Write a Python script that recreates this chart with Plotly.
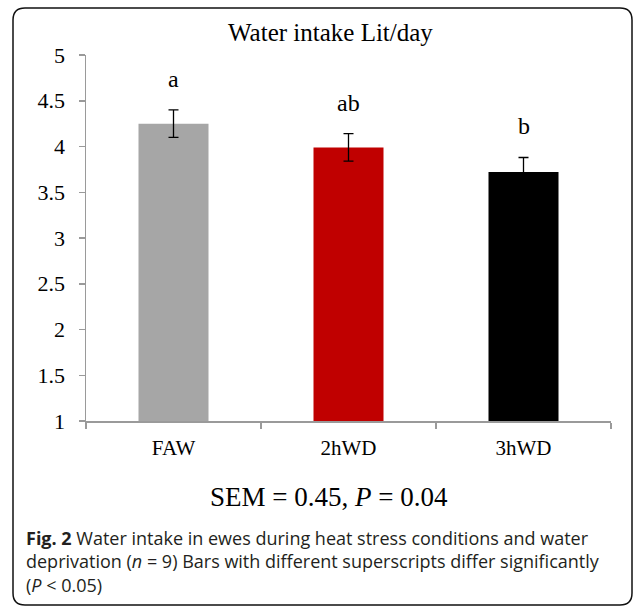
import plotly.graph_objects as go

categories = ["FAW", "2hWD", "3hWD"]
values = [4.25, 3.99, 3.72]
errors = [0.15, 0.15, 0.16]
letters = ["a", "ab", "b"]
bar_colors = ["#a6a6a6", "#c00000", "#000000"]
y_ticks = [1, 1.5, 2, 2.5, 3, 3.5, 4, 4.5, 5]
y_tick_text = ["1", "1.5", "2", "2.5", "3", "3.5", "4", "4.5", "5"]

W, H = 634, 607
L, R, T, B = 86, 23, 55, 186
PW, PH = W - L - R, H - T - B


def px(x):
    return (x - L) / PW


def py(y):
    return (H - B - y) / PH


serif = "Liberation Serif, Times New Roman, serif"

fig = go.Figure()
fig.add_trace(go.Bar(
    x=categories, y=values, base=0,
    marker=dict(color=bar_colors, line=dict(width=0)),
    error_y=dict(type="data", array=errors, color="#000000", thickness=1.3, width=5),
    width=0.4,
    hoverinfo="skip",
))

for cat, v, e, lab in zip(categories, values, errors, letters):
    fig.add_annotation(x=cat, y=v + e, xref="x", yref="y", text=lab, showarrow=False,
                       yanchor="bottom", yshift=16,
                       font=dict(family=serif, size=24, color="#000"))

# Title
fig.add_annotation(x=px(330), y=py(33), xref="paper", yref="paper", text="Water intake Lit/day",
                   showarrow=False, xanchor="center", yanchor="middle",
                   font=dict(family=serif, size=25, color="#000"))
# SEM line
fig.add_annotation(x=px(329), y=py(497), xref="paper", yref="paper",
                   text="SEM = 0.45, <i>P</i> = 0.04",
                   showarrow=False, xanchor="center", yanchor="middle",
                   font=dict(family=serif, size=27, color="#000"))
# Caption
caption = ("<b>Fig. 2</b> Water intake in ewes during heat stress conditions and water<br>"
           "deprivation (<i>n</i> = 9) Bars with different superscripts differ significantly<br>"
           "(<i>P</i> &lt; 0.05)")
fig.add_annotation(x=px(24), y=py(561.5), xref="paper", yref="paper", text=caption,
                   showarrow=False, xanchor="left", yanchor="middle", align="left",
                   font=dict(family="Open Sans, sans-serif", size=18, color="#231f20"))

# Rounded border
x0, x1, y0, y1 = px(13), px(632), py(605), py(8)
rx, ry = 12 / PW, 12 / PH
path = (f"M {x0+rx},{y1} L {x1-rx},{y1} Q {x1},{y1} {x1},{y1-ry} "
        f"L {x1},{y0+ry} Q {x1},{y0} {x1-rx},{y0} L {x0+rx},{y0} "
        f"Q {x0},{y0} {x0},{y0+ry} L {x0},{y1-ry} Q {x0},{y1} {x0+rx},{y1} Z")
fig.add_shape(type="path", path=path, xref="paper", yref="paper",
              line=dict(color="#111111", width=1.5))

fig.update_layout(
    width=W, height=H,
    margin=dict(l=L, r=R, t=T, b=B, pad=0),
    paper_bgcolor="white", plot_bgcolor="white",
    showlegend=False,
    xaxis=dict(
        type="category", showline=True, linecolor="#9a9a9a", linewidth=1.5,
        ticks="outside", tickson="boundaries", ticklen=6, tickcolor="#9a9a9a", tickwidth=1.5,
        tickfont=dict(family=serif, size=21, color="#000"),
        ticklabelstandoff=7, showgrid=False, zeroline=False,
    ),
    yaxis=dict(
        range=[1, 5], tickvals=y_ticks, ticktext=y_tick_text,
        showline=True, linecolor="#9a9a9a", linewidth=1.5,
        ticks="outside", ticklen=6, tickcolor="#9a9a9a", tickwidth=1.5,
        tickfont=dict(family=serif, size=22, color="#000"),
        ticklabelstandoff=9, showgrid=False, zeroline=False,
    ),
)

fig.write_html("out.html",
               config={"displayModeBar": False, "staticPlot": True},
               post_script="document.body.style.margin='0';document.body.style.overflow='hidden';")
